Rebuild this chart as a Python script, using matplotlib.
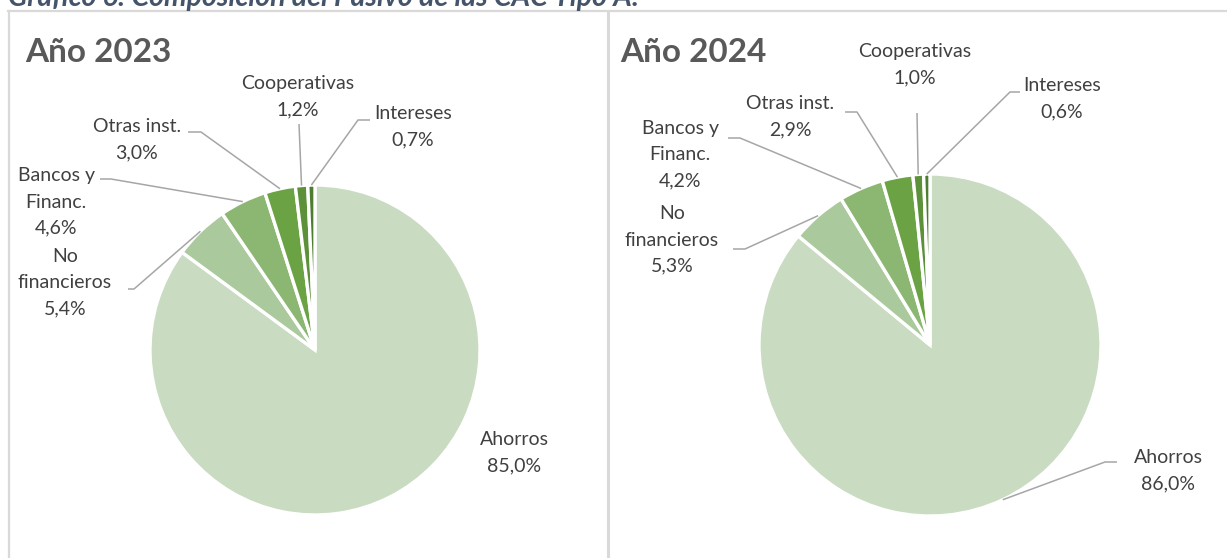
import numpy as np
import matplotlib
matplotlib.use('Agg')
import matplotlib.pyplot as plt

plt.rcParams['font.family'] = ['Lato', 'DejaVu Sans']

# datos
categorias = ['Ahorros', 'No\nfinancieros', 'Bancos y\nFinanc.', 'Otras inst.', 'Cooperativas', 'Intereses']
valores_2023 = [85.0, 5.4, 4.6, 3.0, 1.2, 0.7]
valores_2024 = [86.0, 5.3, 4.2, 2.9, 1.0, 0.6]
titulos = ['Año 2023', 'Año 2024']
titulo_general = 'Gráfico 6: Composición del Pasivo de las CAC Tipo A:'

colores = ['#C9DBC1', '#AAC99C', '#8BB772', '#6BA344', '#5C9139', '#4D7E2F']

W, H = 1227, 558

# layout (pixeles, y hacia abajo)
centros = [(315, 350), (930, 345)]
radios = [165, 171]
pos_titulo = [(25, 52), (620, 52)]
pos_etiquetas = [
    [(514, 453), (65, 283), (56, 202), (137, 140), (298, 97), (413, 127)],
    [(1168, 471), (672, 240), (680, 155), (790, 117), (915, 65), (1062, 99)],
]
# puntos de la linea guia del lado de la etiqueta (inicio, codo)
guias = [
    [None, [(128, 289), (134, 289)], [(100, 179), (111, 179)], [(188, 132), (201, 132)],
     [(299, 124), (299, 124)], [(370, 120), (358, 120)]],
    [[(1117, 462), (1105, 462)], [(733, 249), (745, 249)], [(728, 138), (740, 138)],
     [(845, 112), (857, 112)], [(917, 113), (917, 113)], [(1020, 92), (1010, 92)]],
]


def fy(y):
    return H - y


fig = plt.figure(figsize=(W / 100, H / 100), dpi=100)
ax = fig.add_axes([0, 0, 1, 1])

for i, vals in enumerate([valores_2023, valores_2024]):
    cx, cy = centros[i]
    r = radios[i]
    ax.pie(vals, colors=colores, startangle=90, counterclock=False,
           center=(cx, fy(cy)), radius=r,
           wedgeprops=dict(edgecolor='white', linewidth=2.4))
    total = sum(vals)
    acum = np.cumsum([0] + vals[:-1])
    for j, v in enumerate(vals):
        tx, ty = pos_etiquetas[i][j]
        txt = categorias[j] + '\n' + ('%.1f%%' % v).replace('.', ',')
        ax.text(tx, fy(ty), txt, ha='center', va='center', fontsize=14,
                color='#404040', linespacing=1.65)
        g = guias[i][j]
        if g is None:
            continue
        th = np.deg2rad(360 * (acum[j] + v / 2) / total)
        px = cx + r * np.sin(th)
        py = cy - r * np.cos(th)
        xs = [g[0][0], g[1][0], px]
        ys = [fy(g[0][1]), fy(g[1][1]), fy(py)]
        ax.plot(xs, ys, color='#A6A6A6', lw=1.1, solid_capstyle='butt')
    ax.text(pos_titulo[i][0], fy(pos_titulo[i][1]), titulos[i], ha='left', va='center',
            fontsize=24, fontweight='bold', color='#595959')

# marcos de los paneles
borde = '#D9D9D9'
ax.plot([8, W], [fy(11), fy(11)], color=borde, lw=1.6)
ax.plot([9, 9], [fy(11), 0], color=borde, lw=1.6)
ax.plot([607.5, 607.5], [fy(11), 0], color=borde, lw=2.2)

# titulo general (recortado en el borde superior, como en el original)
ax.text(8, fy(6), titulo_general, ha='left', va='baseline', fontsize=20.5,
        fontweight='bold', fontstyle='italic', color='#44546A')

ax.set_xlim(0, W)
ax.set_ylim(0, H)
ax.set_aspect('auto')
ax.axis('off')

fig.savefig('out.png', dpi=100)
